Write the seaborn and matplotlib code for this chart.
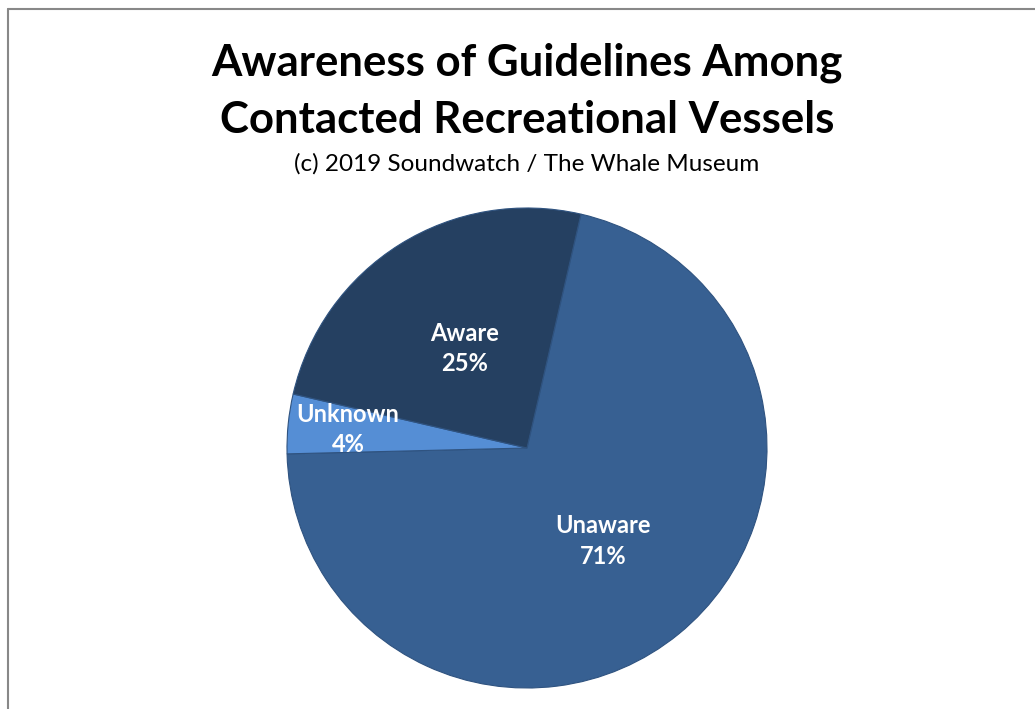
import numpy as np
import matplotlib
matplotlib.use("Agg")
import matplotlib.pyplot as plt
from matplotlib.lines import Line2D
import seaborn as sns

# Survey response shares
categories = ["Unaware", "Unknown", "Aware"]
shares = [71, 4, 25]
pct_labels = ["71%", "4%", "25%"]

sns.set_theme(style="white")
plt.rcParams["font.family"] = ["Lato", "DejaVu Sans"]

colors = ["#376092", "#558ED5", "#254061"]

W, H = 1035, 709
fig = plt.figure(figsize=(W / 100, H / 100), dpi=100)
fig.patch.set_facecolor("white")

# pie axes: centre (527, 448) px, radius 240 px
cx, cy, r = 527, 448, 240
ax = fig.add_axes([(cx - r) / W, (H - cy - r) / H, 2 * r / W, 2 * r / H])

wedges, _ = ax.pie(shares, colors=colors, startangle=77, counterclock=False,
                   wedgeprops=dict(edgecolor="#2f5380", linewidth=0.8))
ax.set_xlim(-1, 1)
ax.set_ylim(-1, 1)
ax.set_aspect("auto")
ax.axis("off")

label_dist = [0.5, 0.75, 0.49]
for w, name, pct, d in zip(wedges, categories, pct_labels, label_dist):
    ang = np.deg2rad((w.theta1 + w.theta2) / 2)
    ax.text(d * np.cos(ang), d * np.sin(ang), f"{name}\n{pct}", ha="center", va="center",
            color="white", fontsize=17, fontweight="bold", linespacing=1.38)

# titles
fig.text(cx / W, 1 - 63 / H, "Awareness of Guidelines Among", ha="center", va="center",
         fontsize=31.5, fontweight="bold", color="black")
fig.text(cx / W, 1 - 120 / H, "Contacted Recreational Vessels", ha="center", va="center",
         fontsize=31.5, fontweight="bold", color="black")
fig.text(cx / W, 1 - 164 / H, "(c) 2019 Soundwatch / The Whale Museum", ha="center", va="center",
         fontsize=17.5, color="black")

# chart frame (left and top edges visible)
fig.add_artist(Line2D([8 / W, 1], [1 - 9 / H, 1 - 9 / H], color="#888888", lw=1.5,
                      transform=fig.transFigure))
fig.add_artist(Line2D([8 / W, 8 / W], [0, 1 - 9 / H], color="#888888", lw=1.5,
                      transform=fig.transFigure))

fig.savefig("out.png", dpi=100)
